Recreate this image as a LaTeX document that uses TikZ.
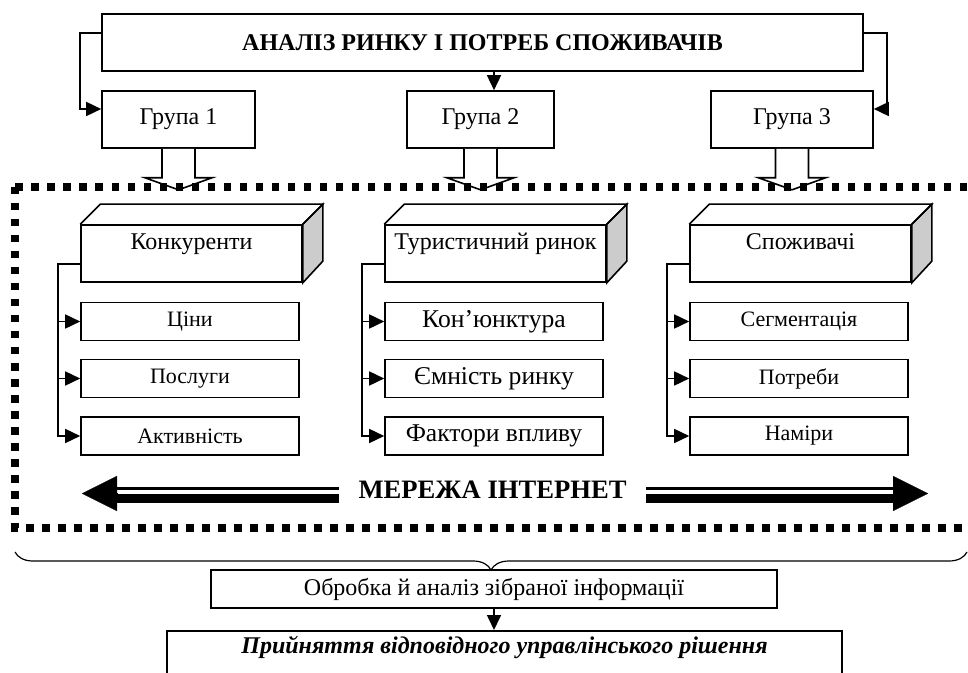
\documentclass[tikz,border=0pt,12pt]{standalone}
\usepackage{fontspec}
\setmainfont{Liberation Serif}
\usetikzlibrary{arrows.meta, positioning, calc, decorations.pathreplacing}

\begin{document}
\begin{tikzpicture}[
    x=0.5pt, y=-0.5pt,
    line width=0.8pt,
    kotak/.style={draw, minimum height=28.5pt, inner sep=0pt, align=center},
    balok/.style={draw, fill=white, inner ysep=0pt, minimum width=110.5pt,
                  text height=12.5pt, text depth=16pt},
    isian/.style={draw, minimum width=109pt, minimum height=19pt, inner sep=0pt,
                  font=\fontsize{11}{13}\selectfont},
    isianbesar/.style={isian, font=\fontsize{12.8}{15}\selectfont},
    panah/.style={-{Triangle[length=7.5pt, width=7pt]}},
    panahkosong/.style={draw, fill=white},
    bingkai/.style={line width=3.75pt, dash pattern=on 3.75pt off 4.25pt},
    panahbesar/.style={-{Triangle[length=17.5pt, width=17.5pt]}, line width=0.1pt}
  ]
    \useasboundingbox (0,0) rectangle (968,673);

    % judul dan tiga grup
    \node[kotak, minimum width=380.5pt, font=\bfseries] (judul) at (482.5,42.5)
      {АНАЛІЗ РИНКУ І ПОТРЕБ СПОЖИВАЧІВ};
    \node[kotak, minimum width=76.5pt] (grup1) at (178.5,119.5) {Група 1};
    \node[kotak, minimum width=73.5pt] (grup2) at (480.5,119.5) {Група 2};
    \node[kotak, minimum width=81pt] (grup3) at (792,119.5) {Група 3};

    \draw[panah] ([yshift=4.75pt]judul.west) -- ++(-10.5pt,0)
      |- ([yshift=5.25pt]grup1.west);
    \draw[panah] ([yshift=4.75pt]judul.east) -- ++(11.5pt,0)
      |- ([yshift=5.25pt]grup3.east);
    \draw[panah] ([xshift=5.75pt]judul.south) -- ([xshift=6.75pt]grup2.north);

    % panah kosong ke bawah
    \foreach \g in {grup1,grup2,grup3}
      \draw[panahkosong] ([xshift=-8.25pt]\g.south) -- ++(0,-14.5pt)
        -- ++(-8.5pt,0) -- ([yshift=-20.5pt]\g.south)
        -- ([xshift=16.75pt,yshift=-14.5pt]\g.south) -- ++(-8.5pt,0)
        -- ([xshift=8.25pt]\g.south);

    \draw[bingkai] (15,187) rectangle (990,528);

    % balok tiga dimensi
    \node[balok] (konk) at (191.5,253.5) {Конкуренти};
    \node[balok] (tur) at (495.5,253.5) {Туристичний ринок};
    \node[balok] (spoz) at (800.5,253.5) {Споживачі};
    \foreach \b in {konk,tur,spoz} {
      \draw[fill=black!20] (\b.north east) -- ++(10pt,10pt) -- ++(0,-28.5pt)
        -- (\b.south east) -- cycle;
      \draw (\b.north west) -- ++(10pt,10pt)
        -- ([shift={(10pt,10pt)}]\b.north east) -- (\b.north east);
    }

    \node[isian] (k1) at (190,321.5) {Ціни};
    \node[isian] (k2) at (190,378.5) {Послуги};
    \node[isian] (k3) at (190,436) {Активність};
    \node[isianbesar] (t1) at (494,321.5) {Кон’юнктура};
    \node[isianbesar] (t2) at (494,378.5) {Ємність ринку};
    \node[isianbesar] (t3) at (494,436) {Фактори впливу};
    \node[isian] (s1) at (799,321.5) {Сегментація};
    \node[isian] (s2) at (799,378.5) {Потреби};
    \node[isian] (s3) at (799,436) {Наміри};

    \foreach \b/\s in {konk/k1, konk/k2, konk/k3, tur/t1, tur/t2, tur/t3,
                       spoz/s1, spoz/s2, spoz/s3}
      \draw[panah] ([yshift=-5.25pt]\b.west) -- ++(-11pt,0) |- (\s.west);

    % mereza internet
    \node[font=\fontsize{13.3}{16}\selectfont\bfseries, inner xsep=9.5pt, inner ysep=0pt]
      (jaring) at (492.5,490) {МЕРЕЖА ІНТЕРНЕТ};
    \coordinate (ujungkiri) at (82,493.5);
    \coordinate (ujungkanan) at (928,493.5);
    \draw[line width=1.6pt] ([yshift=0.85pt]jaring.west)
      -- ([xshift=17.5pt,yshift=2.6pt]ujungkiri);
    \draw[line width=4.35pt] ([yshift=-4.15pt]jaring.west)
      -- ([xshift=17.5pt,yshift=-2.4pt]ujungkiri);
    \draw[panahbesar] ([xshift=17.6pt]ujungkiri) -- (ujungkiri);
    \draw[line width=1.6pt] ([yshift=0.85pt]jaring.east)
      -- ([xshift=-17.5pt,yshift=2.6pt]ujungkanan);
    \draw[line width=4.35pt] ([yshift=-4.15pt]jaring.east)
      -- ([xshift=-17.5pt,yshift=-2.4pt]ujungkanan);
    \draw[panahbesar] ([xshift=-17.6pt]ujungkanan) -- (ujungkanan);

    % kurung kurawal dan hasil
    \coordinate (kurungkiri) at (15,552);
    \coordinate (kurungkanan) at (967,552);
    \draw[line width=0.6pt, decorate, decoration={brace, mirror, amplitude=9pt}]
      (kurungkiri) -- (kurungkanan);

    \node[kotak, minimum width=283pt, minimum height=19pt] (olah) at (494,589)
      {Обробка й аналіз зібраної інформації};
    \node[draw, minimum width=337.5pt, inner ysep=0pt, text height=11.5pt,
          text depth=20pt, font=\bfseries\itshape, anchor=north] (putusan)
      at (504.5,630) {Прийняття відповідного управлінського рішення};
    \draw[panah] (olah.south) -- (olah.south |- putusan.north);
\end{tikzpicture}
\end{document}
